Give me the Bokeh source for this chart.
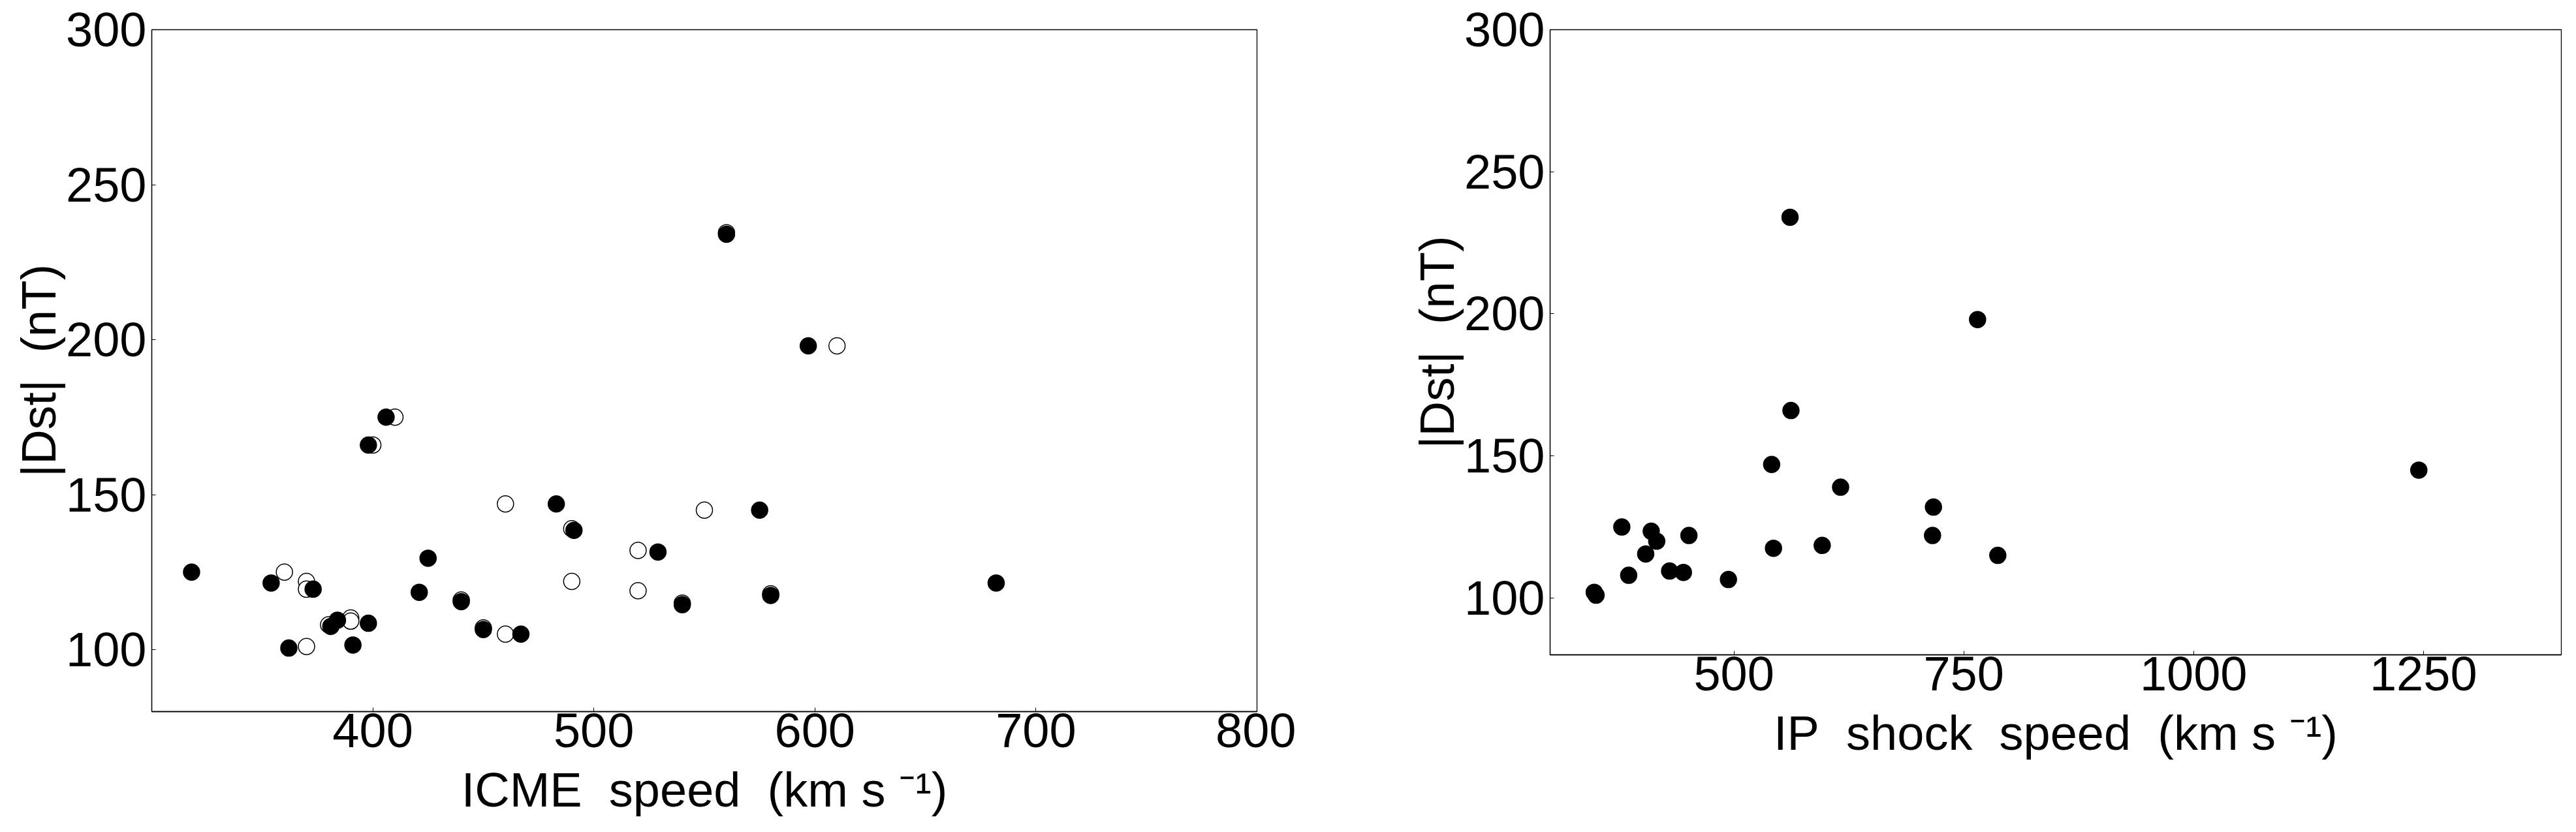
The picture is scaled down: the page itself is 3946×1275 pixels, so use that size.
from jinja2 import Template
from bokeh.plotting import figure
from bokeh.models import FixedTicker, Range1d
from bokeh.embed import file_html
from bokeh.resources import INLINE

# ---- data ----
icme_fill_x = [318, 354, 362, 373, 381, 384, 391, 398, 398, 406, 421, 425,
               440, 450, 467, 483, 491, 529, 540, 560, 575, 580, 597, 682]
icme_fill_y = [125, 121.5, 100.5, 119.5, 107.5, 109.5, 101.5, 108.5, 166, 175, 118.5, 129.5,
               115.5, 106.5, 105, 147, 138.5, 131.5, 114.5, 234, 145, 117.5, 198, 121.5]

icme_open_x = [360, 370, 370, 370, 380, 390, 390, 400, 410, 440, 450,
               460, 460, 490, 490, 520, 520, 540, 550, 560, 580, 610]
icme_open_y = [125, 122, 119.5, 101, 108, 110.2, 109.2, 166, 175, 116, 107,
               147, 105, 139, 122, 132, 119, 115, 145, 234.5, 118, 198]

shock_x = [348, 350, 378, 385.5, 404, 410, 416, 430, 445, 451, 494,
           541, 543, 561, 562, 596, 616, 716, 717, 765, 787, 1245]
shock_y = [102, 101, 125, 108, 115.5, 123.5, 120, 109.5, 109, 122, 106.5,
           147, 117.5, 234, 166, 118.5, 139, 122, 132, 198, 115, 145]

left_xticks = [400, 500, 600, 700, 800]
right_xticks = [500, 750, 1000, 1250]
yticks = [100, 150, 200, 250, 300]

left_xlabel = "ICME\u00a0 speed\u00a0 (km s\u00a0\u207b\u00b9)"
right_xlabel = "IP\u00a0 shock\u00a0 speed\u00a0 (km s\u00a0\u207b\u00b9)"
ylabel = "|Dst|\u00a0 (nT)"

FONT = "Liberation Sans"


def style(p, xticks, xlabel):
    p.xaxis.ticker = FixedTicker(ticks=xticks)
    p.yaxis.ticker = FixedTicker(ticks=yticks)
    p.xgrid.visible = False
    p.ygrid.visible = False
    p.outline_line_color = "black"
    p.outline_line_width = 1.3
    p.background_fill_color = "white"
    p.border_fill_color = "white"
    for ax in (p.xaxis[0], p.yaxis[0]):
        ax.axis_line_color = "black"
        ax.axis_line_width = 1.3
        ax.major_tick_in = 6
        ax.major_tick_out = 0
        ax.major_tick_line_color = "black"
        ax.minor_tick_line_color = None
        ax.major_label_text_font = FONT
        ax.major_label_text_font_size = "74px"
        ax.major_label_text_color = "black"
        ax.axis_label_text_font = FONT
        ax.axis_label_text_font_size = "74px"
        ax.axis_label_text_font_style = "normal"
        ax.axis_label_text_color = "black"
    p.xaxis.axis_label = xlabel
    p.yaxis.axis_label = ylabel
    p.xaxis.major_label_standoff = 3
    p.xaxis.axis_label_standoff = 21
    p.yaxis.major_label_standoff = 8
    p.yaxis.axis_label_standoff = -3


p1 = figure(width=1985, height=1290, output_backend="svg", toolbar_location=None,
            x_range=Range1d(300, 800), y_range=Range1d(80, 300),
            min_border_left=232, min_border_right=60, min_border_top=45, min_border_bottom=200)
style(p1, left_xticks, left_xlabel)
p1.scatter(icme_open_x, icme_open_y, marker="circle", size=25,
           fill_color="white", line_color="black", line_width=1.5)
p1.scatter(icme_fill_x, icme_fill_y, marker="circle", size=25,
           fill_color="black", line_color="black", line_width=1.5)

p2 = figure(width=1953, height=1290, output_backend="svg", toolbar_location=None,
            x_range=Range1d(300, 1400), y_range=Range1d(80, 300),
            min_border_left=389, min_border_right=15, min_border_top=45, min_border_bottom=287)
style(p2, right_xticks, right_xlabel)
p2.scatter(shock_x, shock_y, marker="circle", size=25,
           fill_color="black", line_color="black", line_width=1.5)

# two independent roots placed side by side (no frame alignment between them)
page = Template("""<!DOCTYPE html>
<html lang="en">
<head>
<meta charset="utf-8">
<title>{{ title }}</title>
<style>html, body { margin: 0; padding: 0; overflow: hidden; background: white; }</style>
{{ bokeh_css if bokeh_css }}
{{ bokeh_js if bokeh_js }}
</head>
<body>
<div style="display: flex; flex-direction: row; align-items: flex-start;">
{% for doc in docs %}{% for root in doc.roots %}<div style="flex: none;"><div id="{{ root.elementid }}" style="display: contents;"></div></div>
{% endfor %}{% endfor %}
</div>
{{ plot_script }}
</body>
</html>
""")

open("out.html", "w").write(file_html([p1, p2], INLINE, title="Dst", template=page))
